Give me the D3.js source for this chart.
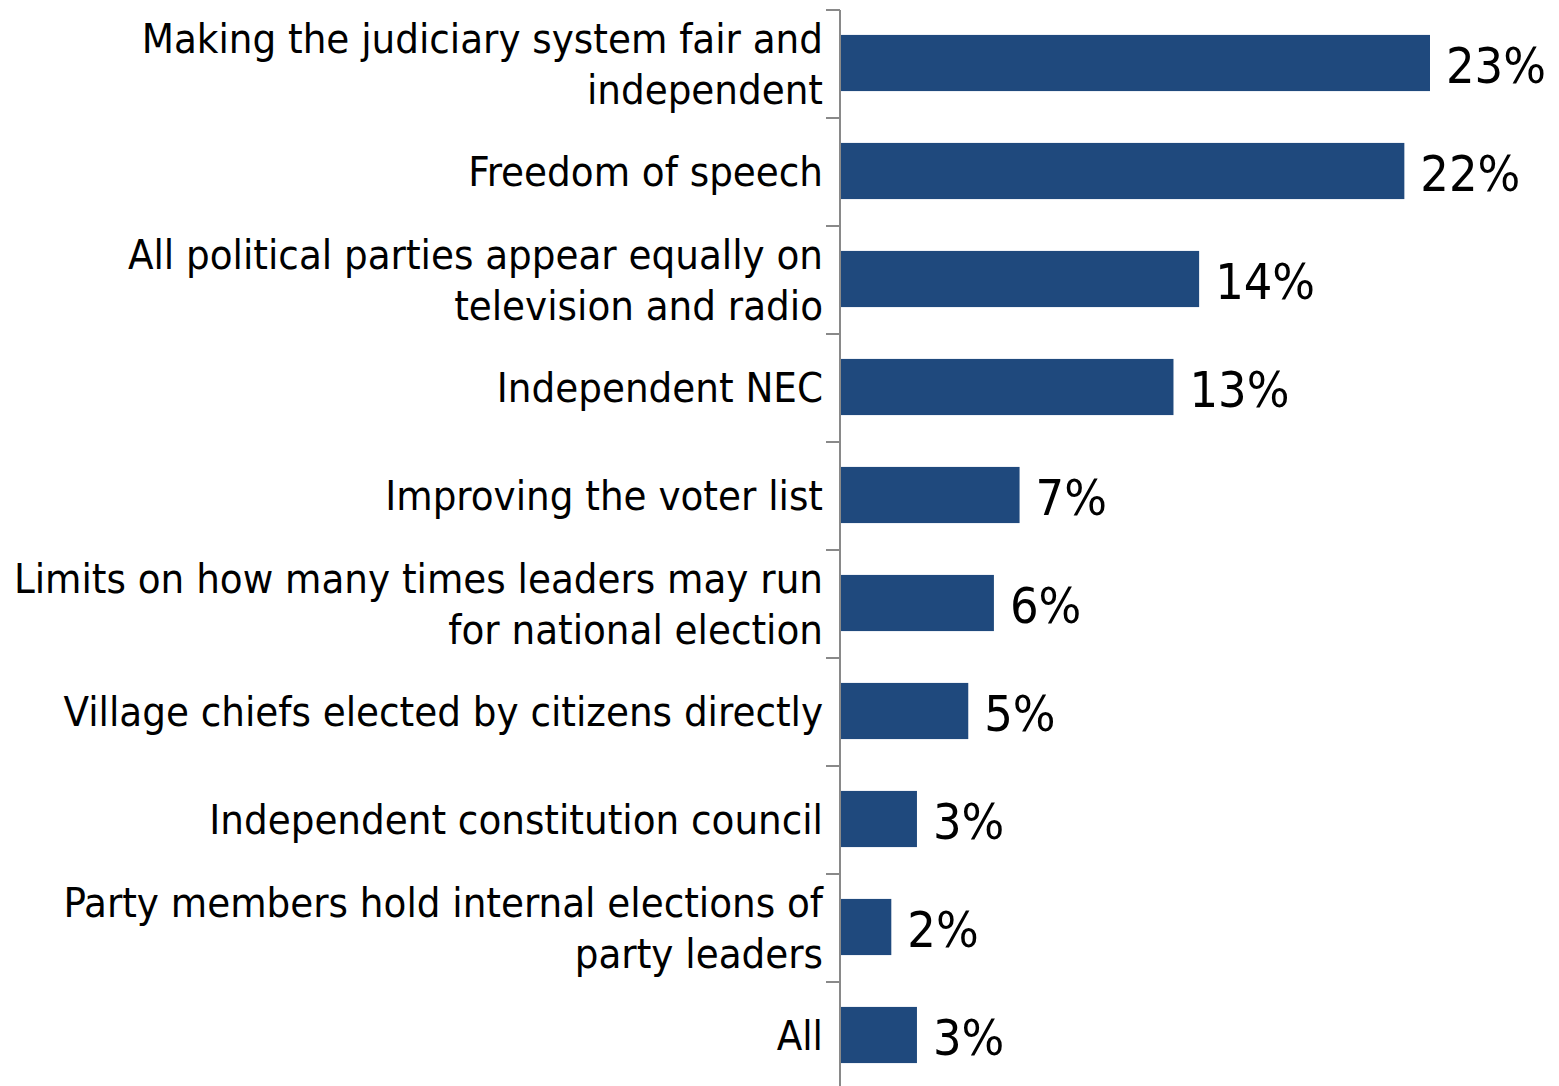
<!DOCTYPE html>
<html>
<head>
<meta charset="utf-8">
<script src="https://cdn.jsdelivr.net/npm/d3@7"></script>
<style>
  html, body { margin: 0; padding: 0; background: #fff; }
  svg { display: block; }
</style>
</head>
<body>
<svg id="chart" width="1559" height="1086"></svg>
<script>
// Reform priorities, share of respondents
const categories = [
  ["Making the judiciary system fair and", "independent"],
  ["Freedom of speech"],
  ["All political parties appear equally on", "television and radio"],
  ["Independent NEC"],
  ["Improving the voter list"],
  ["Limits on how many times leaders may run", "for national election"],
  ["Village chiefs elected by citizens directly"],
  ["Independent constitution council"],
  ["Party members hold internal elections of", "party leaders"],
  ["All"]
];
const values = [23, 22, 14, 13, 7, 6, 5, 3, 2, 3];

const svg = d3.select("#chart");
const axisX = 840;
const fontFamily = "'DejaVu Sans Condensed', 'DejaVu Sans', sans-serif";

const keys = categories.map((c, i) => i);
const y = d3.scaleBand().domain(keys).range([10, 1090]).padding(0);
const x = d3.scaleLinear().domain([0, 23]).range([axisX, axisX + 590]);

const barH = y.bandwidth() * 0.52;

// Bars
svg.append("g").selectAll("rect")
  .data(values)
  .join("rect")
  .attr("x", axisX + 1)
  .attr("y", (d, i) => y(i) + (y.bandwidth() - barH) / 2 - 1)
  .attr("width", d => x(d) - axisX - 1)
  .attr("height", barH)
  .attr("fill", "#1f497d");

// Value labels
svg.append("g").selectAll("text")
  .data(values)
  .join("text")
  .attr("x", d => x(d) + 16)
  .attr("y", (d, i) => y(i) + y.bandwidth() / 2 + 19)
  .attr("font-family", fontFamily)
  .attr("font-size", 50)
  .attr("fill", "#000")
  .text(d => d + "%");

// Axis line and boundary ticks
const axis = svg.append("g").attr("stroke", "#898989").attr("stroke-width", 2);
axis.append("line")
  .attr("x1", axisX).attr("x2", axisX)
  .attr("y1", y.range()[0]).attr("y2", y.range()[1]);
const bounds = keys.map(k => y(k)).concat([y.range()[1]]);
axis.selectAll("line.tick")
  .data(bounds)
  .join("line")
  .attr("class", "tick")
  .attr("x1", axisX - 14).attr("x2", axisX)
  .attr("y1", d => d).attr("y2", d => d);

// Category labels, right aligned against the axis
const lineGap = 51;
const labels = svg.append("g")
  .attr("font-family", fontFamily)
  .attr("font-size", 41.5)
  .attr("fill", "#000")
  .attr("text-anchor", "end");
categories.forEach((lines, i) => {
  const base = y(i) + y.bandwidth() / 2 + 14;
  const t = labels.append("text")
    .attr("x", axisX - 17)
    .attr("y", base);
  lines.forEach((ln, j) => {
    t.append("tspan")
      .attr("x", axisX - 17)
      .attr("y", base + (j - (lines.length - 1) / 2) * lineGap)
      .text(ln);
  });
});
</script>
</body>
</html>
